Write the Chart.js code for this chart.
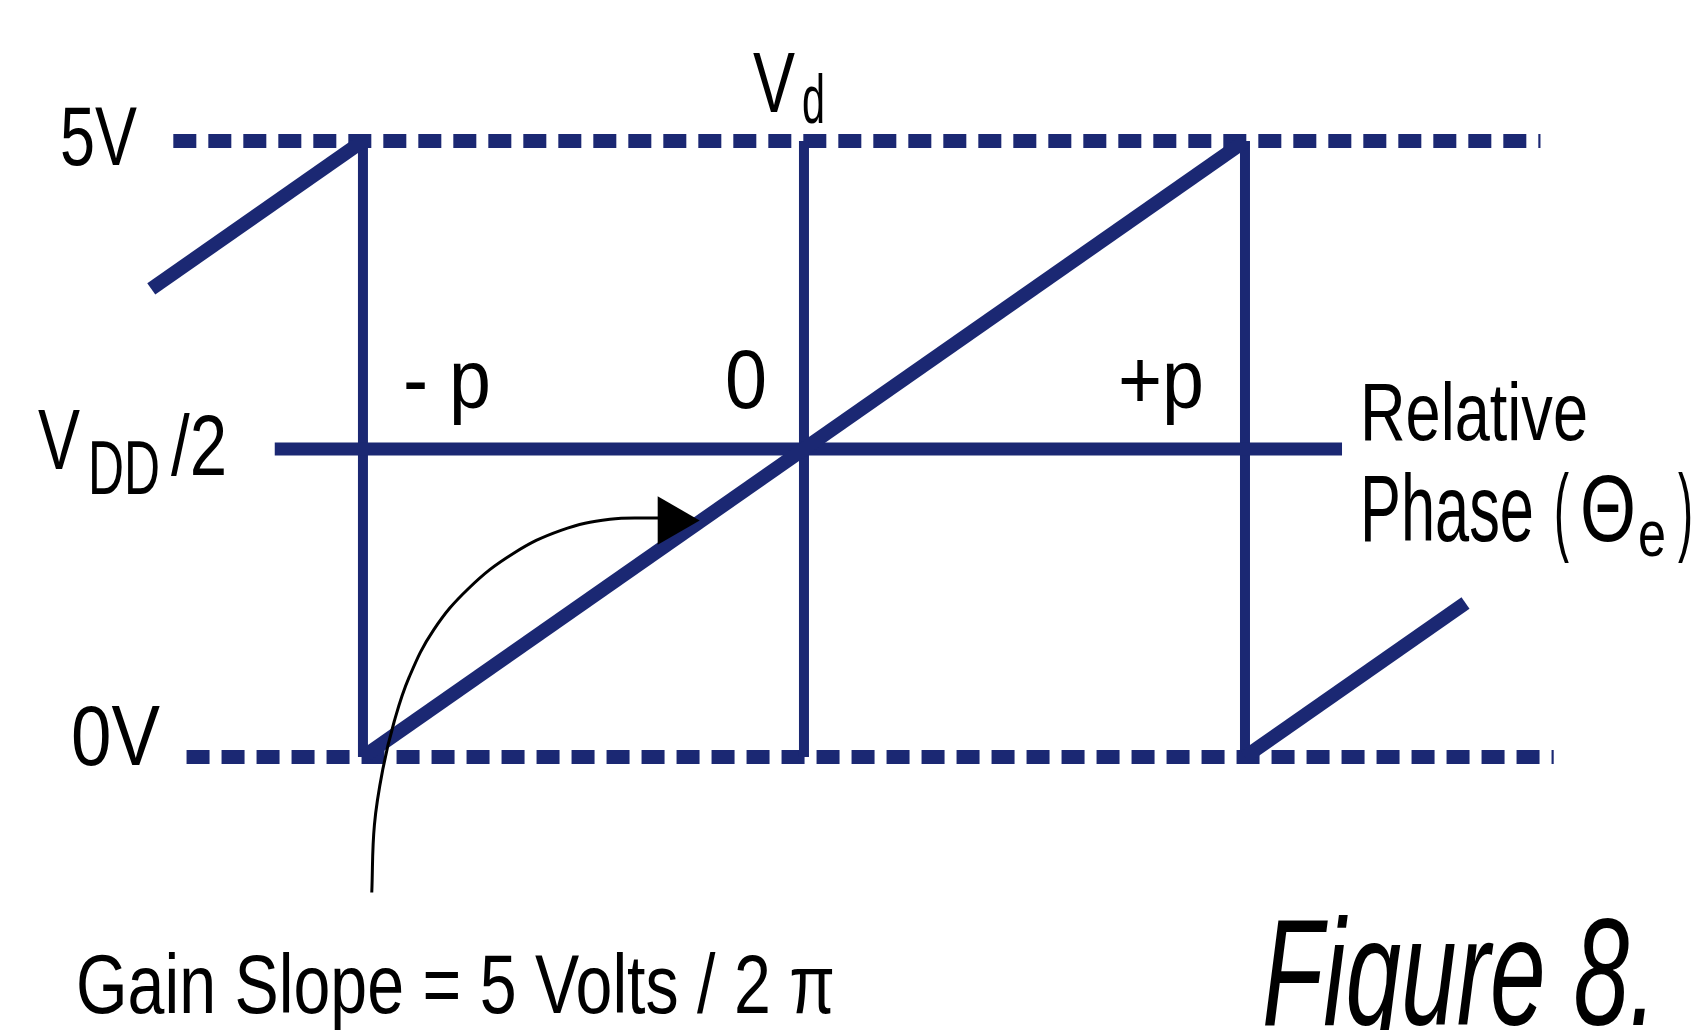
<!DOCTYPE html>
<html>
<head>
<meta charset="utf-8">
<title>Figure 8 - phase detector transfer</title>
<script src="https://cdn.jsdelivr.net/npm/chart.js@4/dist/chart.umd.min.js"></script>
<style>
  html, body { margin: 0; padding: 0; background: #fff; }
  #wrap { width: 1701px; height: 1030px; }
</style>
</head>
<body>
<div id="wrap"><canvas id="phaseChart" width="1701" height="1030"></canvas></div>
<script>
/* --------- DATA (x = relative phase in units of pi, y = volts) --------- */
const phaseTicks = [-1, 0, 1];
const phaseTickLabels = ["- p", "0", "+p"];
const voltLevels = [5, 2.5, 0];
const voltLabels = ["5V", "VDD/2", "0V"];

const rampX = [-1, 1];
const rampY = [0, 5];
const prevRampX = [-1.48, -1];
const prevRampY = [3.8, 5];
const nextRampX = [1, 1.5];
const nextRampY = [0, 1.25];

const railTopX = [-1.43, 1.67];
const railBottomX = [-1.40, 1.70];
const midLineX = [-1.2, 1.22];

const arrowX = [-0.98, -0.974, -0.955, -0.929, -0.895, -0.84, -0.76, -0.66, -0.551, -0.44, -0.33];
const arrowY = [-1.10, -0.55, -0.10, 0.29, 0.65, 1.03, 1.37, 1.65, 1.84, 1.93, 1.94];
const arrowHeadX = [-0.30];
const arrowHeadY = [1.92];

/* --------- HELPERS --------- */
const NAVY = "#1b2873";
const pts = (xs, ys) => xs.map((x, i) => ({ x, y: ys[i] }));
const flat = (xs, v) => xs.map(x => ({ x, y: v }));

function line(data, width, extra = {}) {
  return Object.assign({
    data,
    showLine: true,
    borderColor: NAVY,
    borderWidth: width,
    pointRadius: 0,
    tension: 0,
    borderCapStyle: "butt"
  }, extra);
}

/* --------- TEXT --------- */
function put(ctx, str, left, base, width, size, style = "") {
  ctx.save();
  ctx.font = `${style} ${size}px "Liberation Sans", Arial, sans-serif`;
  const w = ctx.measureText(str).width;
  ctx.translate(left, base);
  ctx.scale(width / w, 1);
  ctx.fillStyle = "#000";
  ctx.textBaseline = "alphabetic";
  ctx.fillText(str, 0, 0);
  ctx.restore();
}

const labelPlugin = {
  id: "figureLabels",
  afterDraw(chart) {
    const { ctx, scales: { x, y } } = chart;
    const yPx = voltLevels.map(v => y.getPixelForValue(v));
    const xPx = phaseTicks.map(p => x.getPixelForValue(p));

    // voltage labels
    put(ctx, voltLabels[0], 60, yPx[0] + 24, 77, 84);
    put(ctx, voltLabels[1].slice(0, 1), 38, yPx[1] + 20, 42, 86);
    put(ctx, voltLabels[1].slice(1, 3), 88, yPx[1] + 45, 72, 76);
    put(ctx, voltLabels[1].slice(3), 171, yPx[1] + 26, 56, 86);
    put(ctx, voltLabels[2], 71, yPx[2] + 8, 89, 86);

    // phase labels, just left of each vertical
    put(ctx, phaseTickLabels[0], xPx[0] + 40, yPx[1] - 41, 88, 84);
    put(ctx, phaseTickLabels[1], xPx[1] - 79, yPx[1] - 41, 42, 84);
    put(ctx, phaseTickLabels[2], xPx[2] - 127, yPx[1] - 41, 86, 84);

    // Vd over the centre line
    put(ctx, "V", xPx[1] - 51, yPx[0] - 29, 42, 86);
    put(ctx, "d", xPx[1] - 2, yPx[0] - 18, 23, 68);

    // axis title
    put(ctx, "Relative", 1360, 440, 228, 82);
    put(ctx, "Phase", 1360, 541, 174, 94);
    put(ctx, "(", 1554, 543, 15, 98);
    put(ctx, "\u0398", 1580, 541, 56, 94);
    put(ctx, "e", 1638, 556, 28, 64);
    put(ctx, ")", 1678, 543, 15, 98);

    put(ctx, "Gain Slope = 5 Volts / 2 \u03c0", 76, 1013, 759, 84);
    put(ctx, "Figure 8.", 1262, 1025, 395, 152, "italic");
  }
};

/* --------- CHART --------- */
const datasets = [
  {
    data: pts(arrowHeadX, arrowHeadY),
    showLine: false,
    pointStyle: "triangle",
    pointRotation: 90,
    pointRadius: 28,
    pointBackgroundColor: "#000",
    pointBorderWidth: 0
  },
  line(pts(arrowX, arrowY), 3, { borderColor: "#000", tension: 0.4 }),
  line(pts(prevRampX, prevRampY), 14),
  line(pts(rampX, rampY), 14),
  line(pts(nextRampX, nextRampY), 14),
  line(flat(midLineX, voltLevels[1]), 13),
  ...phaseTicks.map(p => line([{ x: p, y: voltLevels[2] }, { x: p, y: voltLevels[0] }], 10)),
  line(flat(railTopX, voltLevels[0]), 14, { borderDash: [23, 12] }),
  line(flat(railBottomX, voltLevels[2]), 14, { borderDash: [23, 12] })
];

new Chart(document.getElementById("phaseChart"), {
  type: "scatter",
  data: { datasets },
  options: {
    responsive: false,
    devicePixelRatio: 1,
    animation: false,
    layout: { padding: 0, autoPadding: false },
    plugins: { legend: { display: false }, tooltip: { enabled: false } },
    scales: {
      x: { type: "linear", min: -1.823, max: 2.034, display: false },
      y: { type: "linear", min: -2.216, max: 6.145, display: false }
    }
  },
  plugins: [labelPlugin]
});
</script>
</body>
</html>
